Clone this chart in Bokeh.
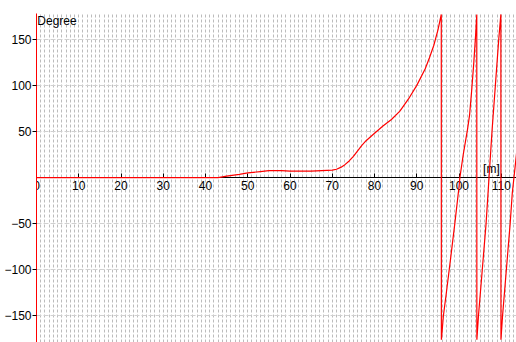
from bokeh.plotting import figure
from bokeh.models import Range1d, LinearAxis, FixedTicker, SingleIntervalTicker, Label, Grid
from bokeh.embed import file_html
from bokeh.resources import INLINE

# distance [m]
dist = [0, 43, 45, 48, 50, 53, 55, 58, 60, 65, 70, 71, 72, 73, 74, 75, 76, 77, 78,
        80, 82, 84, 86, 88, 90, 92, 93, 94, 95, 95.8,
        95.82, 96.3, 97, 98, 99, 100, 100.2, 101, 102, 102.5, 103, 103.5, 104, 104.2,
        104.22, 104.6, 105.5, 106.4, 107.1, 107.8, 108.6, 109.4, 109.9,
        109.92, 110.3, 111.2, 112.1, 112.6, 113.0, 113.7]
# phase [Degree]
phase = [0, 0, 1.5, 3.5, 5, 6.5, 7.5, 7.5, 7, 7, 8, 9, 11, 14, 18, 23, 29, 35, 40,
         48, 56, 63, 72, 85, 100, 118, 130, 143, 160, 177,
         -176, -150, -125, -88, -50, -10, 0, 25, 52, 68, 95, 125, 160, 177,
         -176, -150, -100, -50, 0, 50, 100, 150, 177,
         -176, -150, -100, -50, -17, 0, 30]

x_ticks = [0, 10, 20, 30, 40, 50, 60, 70, 80, 90, 100, 110]
y_ticks = [-150, -100, -50, 50, 100, 150]

FONT = "Liberation Sans"

p = figure(width=516, height=342, output_backend="svg", toolbar_location=None,
           x_range=Range1d(0, 113.6), y_range=Range1d(-179, 178),
           x_axis_location=None, min_border_left=36, min_border_right=0,
           min_border_top=13, min_border_bottom=0)
p.outline_line_color = None
p.background_fill_color = "white"
p.border_fill_color = "white"

p.xgrid.visible = False
p.ygrid.visible = False

vgrid = Grid(dimension=0, ticker=SingleIntervalTicker(interval=1),
             grid_line_color="#bcbcbc", grid_line_dash="3 2", grid_line_width=1)
hgrid = Grid(dimension=1, ticker=FixedTicker(ticks=y_ticks),
             grid_line_color="#d0d0d0", grid_line_dash="5 2", grid_line_width=1)
p.add_layout(vgrid)
p.add_layout(hgrid)

ya = p.yaxis[0]
ya.ticker = FixedTicker(ticks=y_ticks)
ya.axis_line_color = "#ff0000"
ya.axis_line_width = 1
ya.major_tick_line_color = "black"
ya.major_tick_in = 0
ya.major_tick_out = 4
ya.minor_tick_line_color = None
ya.major_label_standoff = 1
ya.major_label_text_font = FONT
ya.major_label_text_font_size = "12px"
ya.major_label_text_color = "black"

xa = LinearAxis(fixed_location=0, ticker=FixedTicker(ticks=x_ticks))
xa.axis_line_color = "black"
xa.major_tick_line_color = "black"
xa.major_tick_in = 4
xa.major_tick_out = 0
xa.minor_tick_line_color = None
xa.major_label_standoff = 3
xa.major_label_text_font = FONT
xa.major_label_text_font_size = "12px"
xa.major_label_text_color = "black"
p.add_layout(xa, "below")

r = p.line(dist, phase, line_color="#ff0000", line_width=1.2)
r.level = "overlay"

p.add_layout(Label(x=0.2, y=178, text="Degree", text_baseline="top", text_align="left",
                   text_font=FONT, text_font_size="12px", text_color="black"))
p.add_layout(Label(x=105.7, y=1.5, text="[m]", text_baseline="bottom", text_align="left",
                   text_font=FONT, text_font_size="12px", text_color="black"))

open("out.html", "w").write(file_html(p, INLINE))
